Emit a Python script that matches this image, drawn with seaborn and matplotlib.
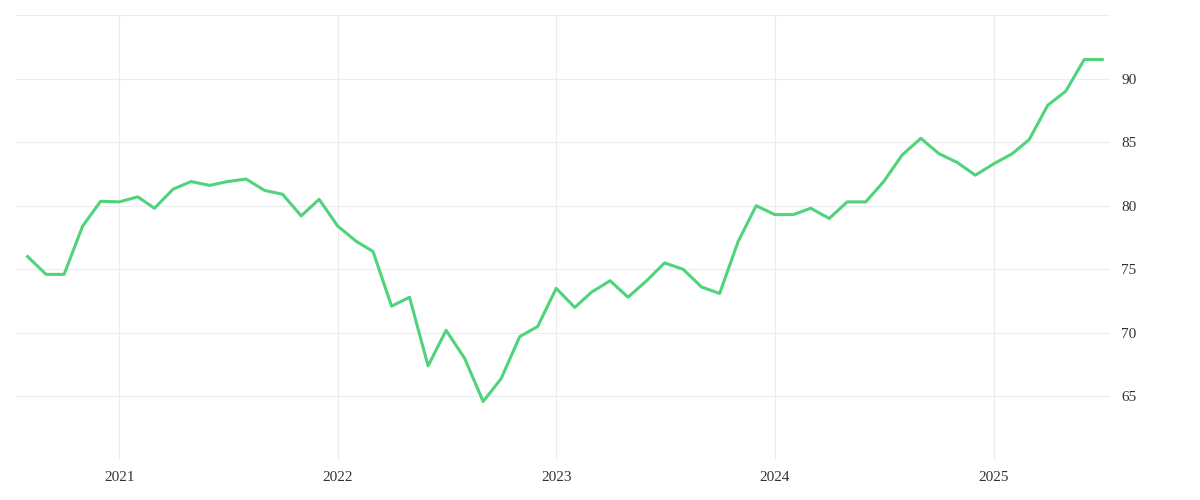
import pandas as pd
import seaborn as sns
import matplotlib.pyplot as plt
import matplotlib.dates as mdates

# Monthly values, Aug 2020 - Jul 2025
months = pd.date_range('2020-08-01', periods=60, freq='MS')
values = [76.0, 74.6, 74.6, 78.4, 80.35, 80.3, 80.7, 79.8, 81.3, 81.9,
          81.6, 81.9, 82.1, 81.2, 80.9, 79.2, 80.5, 78.4, 77.2, 76.4,
          72.1, 72.8, 67.4, 70.2, 68.0, 64.6, 66.4, 69.7, 70.5, 73.5,
          72.0, 73.2, 74.1, 72.8, 74.1, 75.5, 75.0, 73.6, 73.1, 77.2,
          80.0, 79.3, 79.3, 79.8, 79.0, 80.3, 80.3, 81.9, 84.0, 85.3,
          84.1, 83.4, 82.4, 83.3, 84.1, 85.2, 87.9, 89.0, 91.5, 91.5]
y_ticks = [65, 70, 75, 80, 85, 90]

df = pd.DataFrame({'date': months, 'value': values})

fig = plt.figure(figsize=(12, 5), dpi=100)
ax = fig.add_axes([15 / 1200, 40 / 500, 1095 / 1200, 445 / 500])
sns.lineplot(data=df, x='date', y='value', color='#4fd37b', linewidth=2.2, ax=ax)

ax.set_ylim(60, 95)
ax.set_yticks([60, 65, 70, 75, 80, 85, 90, 95])
ax.set_yticklabels([''] + [str(v) for v in y_ticks] + [''])
ax.yaxis.tick_right()
ax.set_xlim(pd.Timestamp('2020-07-11'), pd.Timestamp('2025-07-14'))
ax.xaxis.set_major_locator(mdates.YearLocator())
ax.xaxis.set_major_formatter(mdates.DateFormatter('%Y'))
ax.set_xlabel('')
ax.set_ylabel('')
ax.grid(True, color='#ececec', linewidth=0.8)
for s in ax.spines.values():
    s.set_visible(False)
ax.tick_params(length=0, labelsize=11, colors='#333333', pad=8)
for lbl in ax.get_xticklabels() + ax.get_yticklabels():
    lbl.set_fontfamily('Liberation Serif')

fig.savefig('out.png', dpi=100)
